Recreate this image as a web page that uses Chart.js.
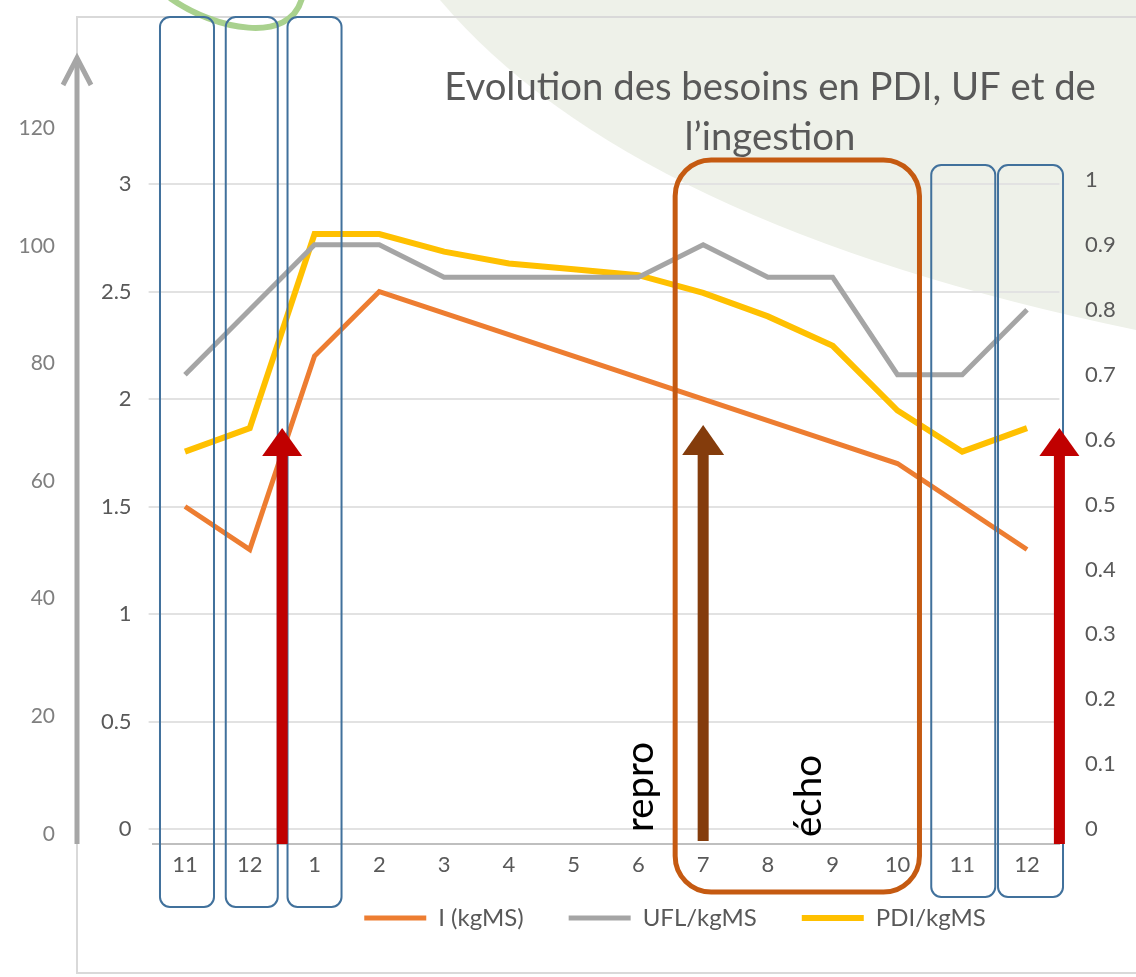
<!DOCTYPE html>
<html>
<head>
<meta charset="utf-8">
<title>Evolution des besoins en PDI, UF et de l’ingestion</title>
<script src="https://cdn.jsdelivr.net/npm/chart.js@4.4.1/dist/chart.umd.min.js"></script>
<style>
  html, body { margin: 0; padding: 0; background: #fff; }
  #wrap { width: 1136px; height: 977px; }
</style>
</head>
<body>
<div id="wrap"><canvas id="besoinsChart" width="1136" height="977"></canvas></div>
<script>
// Mois, de novembre (année n-1) à décembre
const months = ['11', '12', '1', '2', '3', '4', '5', '6', '7', '8', '9', '10', '11', '12'];

// I (kgMS) - axe gauche intérieur
const ingestion = [1.5, 1.3, 2.2, 2.5, 2.4, 2.3, 2.2, 2.1, 2.0, 1.9, 1.8, 1.7, 1.5, 1.3];
// UFL/kgMS - axe droit
const ufl = [0.7, 0.8, 0.9, 0.9, 0.85, 0.85, 0.85, 0.85, 0.9, 0.85, 0.85, 0.7, 0.7, 0.8];
// PDI/kgMS - axe gauche extérieur
const pdi = [65, 69, 102, 102, 99, 97, 96, 95, 92, 88, 83, 72, 65, 69];

// graduations
const ticksIngestion = [0, 0.5, 1, 1.5, 2, 2.5, 3];
const ticksUfl = [0, 0.1, 0.2, 0.3, 0.4, 0.5, 0.6, 0.7, 0.8, 0.9, 1];
const ticksPdi = [0, 20, 40, 60, 80, 100, 120];

const titleLines = ['Evolution des besoins en PDI, UF et de', 'l’ingestion'];
const notes = ['repro', 'écho'];

const FONT = 'Lato, "Open Sans", sans-serif';

// cadres bleus autour des mois de vêlage (index dans months, écarts en px)
const blueFrames = [
    { month: 0, left: -25, right: 29, top: 17, bottom: 907 },
    { month: 1, left: -24, right: 28, top: 17, bottom: 907 },
    { month: 2, left: -27, right: 27, top: 17, bottom: 907 },
    { month: 12, left: -31, right: 33, top: 165, bottom: 897 },
    { month: 13, left: -29, right: 36, top: 165, bottom: 897 }
];

function roundRect(ctx, x, y, w, h, r) {
    ctx.beginPath();
    ctx.moveTo(x + r, y);
    ctx.arcTo(x + w, y, x + w, y + h, r);
    ctx.arcTo(x + w, y + h, x, y + h, r);
    ctx.arcTo(x, y + h, x, y, r);
    ctx.arcTo(x, y, x + w, y, r);
    ctx.closePath();
}

function drawArrow(ctx, x, yBase, yTip, color, shaftW, headW, headL) {
    ctx.fillStyle = color;
    ctx.fillRect(x - shaftW / 2, yTip + headL - 1, shaftW, yBase - yTip - headL + 1);
    ctx.beginPath();
    ctx.moveTo(x, yTip);
    ctx.lineTo(x + headW / 2, yTip + headL);
    ctx.lineTo(x - headW / 2, yTip + headL);
    ctx.closePath();
    ctx.fill();
}

// taille de police pour qu'un texte occupe une longueur donnée
function fitFont(ctx, text, length) {
    ctx.font = `100px ${FONT}`;
    return 100 * length / ctx.measureText(text).width;
}

const slideBackground = {
    id: 'slideBackground',
    beforeDraw(chart) {
        const { ctx, width } = chart;
        ctx.save();
        ctx.fillStyle = '#ffffff';
        ctx.fillRect(0, 0, width, chart.height);

        // décor vert pâle de la diapo
        ctx.fillStyle = '#eef1e9';
        ctx.beginPath();
        ctx.moveTo(440, 0);
        ctx.quadraticCurveTo(630, 225, width, 330);
        ctx.lineTo(width, 0);
        ctx.closePath();
        ctx.fill();

        // bordure du graphique collé
        ctx.strokeStyle = '#d9d9d9';
        ctx.lineWidth = 2;
        ctx.beginPath();
        ctx.moveTo(width, 17);
        ctx.lineTo(77, 17);
        ctx.lineTo(77, 973);
        ctx.lineTo(width, 973);
        ctx.stroke();

        // titre
        const size = fitFont(ctx, titleLines[0], 652);
        ctx.font = `${size}px ${FONT}`;
        ctx.fillStyle = '#595959';
        ctx.textAlign = 'center';
        ctx.textBaseline = 'middle';
        ctx.fillText(titleLines[0], 770, 88);
        ctx.fillText(titleLines[1], 770, 138);
        ctx.restore();
    }
};

const annotations = {
    id: 'annotations',
    afterDatasetsDraw(chart) {
        const { ctx, chartArea, scales } = chart;
        const x = scales.x;
        ctx.save();

        // arc vert en haut
        ctx.strokeStyle = '#a9d18e';
        ctx.lineWidth = 6;
        ctx.beginPath();
        ctx.moveTo(170, -2);
        ctx.bezierCurveTo(215, 30, 290, 45, 302, -2);
        ctx.stroke();

        // cadres bleus
        ctx.strokeStyle = '#41719c';
        ctx.lineWidth = 2;
        blueFrames.forEach(f => {
            const cx = x.getPixelForValue(f.month);
            roundRect(ctx, cx + f.left, f.top, f.right - f.left, f.bottom - f.top, 10);
            ctx.stroke();
        });

        // flèches de vêlage (rouges) et de reproduction (brune)
        drawArrow(ctx, x.getPixelForValue(1.5), chartArea.bottom, 428, '#c00000', 11, 40, 28);
        drawArrow(ctx, x.getPixelForValue(13.5), chartArea.bottom, 428, '#c00000', 11, 40, 28);
        drawArrow(ctx, x.getPixelForValue(8), chartArea.bottom - 3, 425, '#843c0c', 11, 42, 30);

        // cadre orange de la période 7 à 10
        ctx.strokeStyle = '#c55a11';
        ctx.lineWidth = 5;
        const left = x.getPixelForValue(8) - 28;
        const right = x.getPixelForValue(11) + 22;
        roundRect(ctx, left, 160, right - left, 892 - 160, 36);
        ctx.stroke();

        // textes verticaux
        ctx.fillStyle = '#000000';
        ctx.textAlign = 'left';
        ctx.textBaseline = 'alphabetic';
        [[notes[0], x.getPixelForValue(7) + 15, 832, 90], [notes[1], x.getPixelForValue(10) - 12, 837, 82]]
            .forEach(([txt, bx, by, len]) => {
                ctx.save();
                ctx.font = `${fitFont(ctx, txt, len)}px ${FONT}`;
                ctx.translate(bx, by);
                ctx.rotate(-Math.PI / 2);
                ctx.fillText(txt, 0, 0);
                ctx.restore();
            });

        // flèche grise de l'axe extérieur
        const ax = scales.yPdi.right - 13;
        ctx.strokeStyle = '#a6a6a6';
        ctx.lineWidth = 5;
        ctx.beginPath();
        ctx.moveTo(ax, chartArea.bottom);
        ctx.lineTo(ax, 58);
        ctx.stroke();
        ctx.beginPath();
        ctx.moveTo(ax - 14, 85);
        ctx.lineTo(ax, 58);
        ctx.lineTo(ax + 14, 85);
        ctx.stroke();
        ctx.restore();
    }
};

// légende décalée comme sur l'original
const legendPlacement = {
    id: 'legendPlacement',
    afterLayout(chart) {
        const lg = chart.legend;
        const labels = lg.options.labels;
        const dy = 918 - (lg.top + labels.padding + labels.font.size / 2);
        lg.left += 107;
        lg.right += 107;
        lg.top += dy;
        lg.bottom += dy;
    }
};

const tickFont = { family: FONT, size: 22 };

new Chart(document.getElementById('besoinsChart'), {
    type: 'line',
    data: {
        labels: months,
        datasets: [
            {
                label: 'I (kgMS)',
                data: ingestion,
                yAxisID: 'yIng',
                borderColor: '#ed7d31',
                borderWidth: 5,
                pointRadius: 0,
                tension: 0
            },
            {
                label: 'UFL/kgMS',
                data: ufl,
                yAxisID: 'yUfl',
                borderColor: '#a5a5a5',
                borderWidth: 5,
                pointRadius: 0,
                tension: 0
            },
            {
                label: 'PDI/kgMS',
                data: pdi,
                yAxisID: 'yPdi',
                borderColor: '#ffc000',
                borderWidth: 6,
                pointRadius: 0,
                tension: 0
            }
        ]
    },
    options: {
        responsive: false,
        devicePixelRatio: 1,
        animation: false,
        layout: { padding: { top: 128, left: 0, right: 0, bottom: 0 } },
        plugins: {
            title: { display: false },
            tooltip: { enabled: false },
            legend: {
                position: 'bottom',
                labels: {
                    usePointStyle: true,
                    pointStyle: 'line',
                    pointStyleWidth: 62,
                    color: '#595959',
                    font: { family: FONT, size: 24 },
                    padding: 45
                }
            }
        },
        scales: {
            x: {
                offset: true,
                grid: { display: false, drawTicks: false },
                border: { display: true, color: '#bfbfbf', width: 2 },
                ticks: { color: '#595959', font: tickFont, padding: 8, maxRotation: 0, autoSkip: false },
                afterFit: s => { s.height = 54; }
            },
            yIng: {
                position: 'left',
                weight: 0,
                min: -0.0697,
                max: 3.2606,
                afterBuildTicks: s => { s.ticks = ticksIngestion.map(v => ({ value: v })); },
                grid: { color: '#e2e2e2', lineWidth: 2, tickLength: 4 },
                border: { display: false },
                ticks: { color: '#595959', font: tickFont, padding: 17, callback: v => String(v) },
                afterFit: s => { s.width = 62.6; }
            },
            yPdi: {
                position: 'left',
                weight: 1,
                min: -1.7,
                max: 120.03,
                afterBuildTicks: s => { s.ticks = ticksPdi.map(v => ({ value: v })); },
                grid: { display: false, drawTicks: false },
                border: { display: false },
                ticks: { color: '#7f7f7f', font: { family: FONT, size: 21 }, padding: 35, callback: v => String(v) },
                afterFit: s => { s.width = 90; }
            },
            yUfl: {
                position: 'right',
                min: -0.023,
                max: 1.08,
                afterBuildTicks: s => { s.ticks = ticksUfl.map(v => ({ value: v })); },
                grid: { display: false, drawTicks: false },
                border: { display: false },
                ticks: { color: '#595959', font: tickFont, padding: 25.6, callback: v => String(v) },
                afterFit: s => { s.width = 76.6; }
            }
        }
    },
    plugins: [slideBackground, annotations, legendPlacement]
});
</script>
</body>
</html>
